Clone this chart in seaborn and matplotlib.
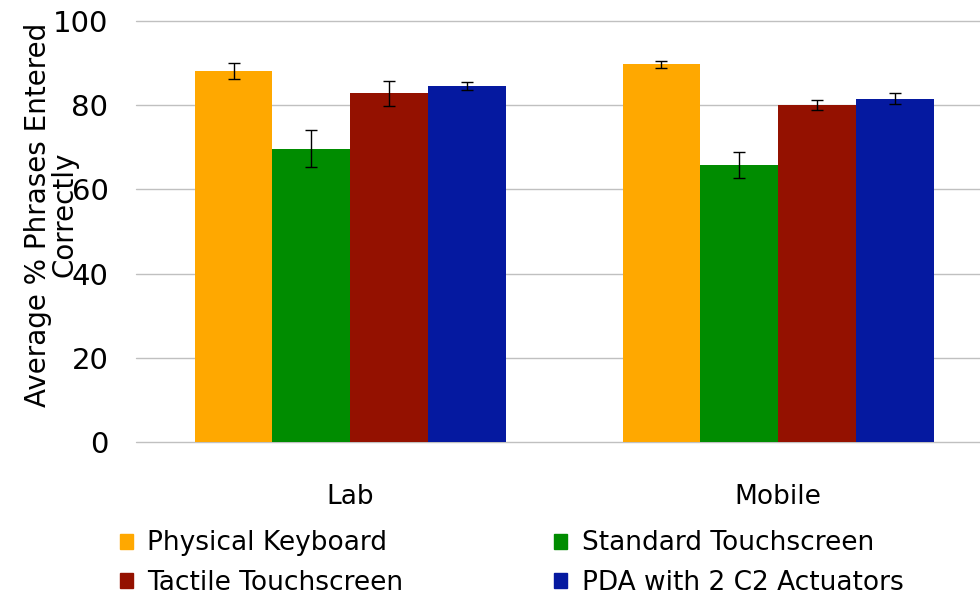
import numpy as np
import pandas as pd
import matplotlib
matplotlib.use("Agg")
import matplotlib.pyplot as plt
import seaborn as sns

# values
conditions = ["Lab", "Mobile"]
methods = ["Physical Keyboard", "Standard Touchscreen",
           "Tactile Touchscreen", "PDA with 2 C2 Actuators"]
lab_means = [88.2, 69.6, 82.8, 84.5]
lab_err = [1.9, 4.4, 3.0, 0.9]
mobile_means = [89.7, 65.7, 80.0, 81.5]
mobile_err = [0.8, 3.1, 1.2, 1.35]
colors = ["#FFA800", "#008C00", "#941100", "#0519A0"]

df = pd.DataFrame({
    "condition": np.repeat(conditions, len(methods)),
    "method": methods * len(conditions),
    "mean": lab_means + mobile_means,
    "err": lab_err + mobile_err,
})

sns.set_style("white")
plt.rcParams["font.family"] = ["DejaVu Sans"]
plt.rcParams["text.color"] = "black"
plt.rcParams["xtick.color"] = "black"
plt.rcParams["ytick.color"] = "black"
plt.rcParams["axes.labelcolor"] = "black"

fig = plt.figure(figsize=(9.8, 5.95), dpi=100)
ax = fig.add_axes([0.139, 0.257, 0.861, 0.708])

sns.barplot(data=df, x="condition", y="mean", hue="method",
            hue_order=methods, palette=colors, width=0.727,
            errorbar=None, saturation=1, linewidth=0, ax=ax, legend=False)

# error bars at each bar center
for cont, m in zip(ax.containers, methods):
    sub = df[df["method"] == m].set_index("condition").loc[conditions]
    xs = [p.get_x() + p.get_width() / 2 for p in cont.patches]
    ax.errorbar(xs, sub["mean"], yerr=sub["err"], fmt="none",
                ecolor="black", elinewidth=1, capsize=4.3, capthick=1, zorder=5)

ax.set_ylim(0, 100)
ax.set_xlim(-0.5, 1.472)
ax.set_yticks([0, 20, 40, 60, 80, 100])
ax.yaxis.grid(True, color="#C0C0C0", linewidth=1)
for gl in ax.get_ygridlines():
    gl.set_clip_on(False)
ax.set_axisbelow(True)
for s in ax.spines.values():
    s.set_visible(False)
ax.tick_params(axis="y", length=0, pad=20, labelsize=21)
ax.tick_params(axis="x", length=0, pad=30, labelsize=19)
ax.set_xlabel("")
ax.set_ylabel("Average % Phrases Entered\nCorrectly", fontsize=20,
              linespacing=0.95)
ax.yaxis.set_label_coords(-0.068, 0.54)

# legend is filled row by row in the reference
order = [0, 2, 1, 3]
handles = [plt.Rectangle((0, 0), 1, 1, color=colors[i]) for i in order]
labels = [methods[i] for i in order]
fig.legend(handles, labels, loc="lower left", bbox_to_anchor=(0.098, -0.041),
           ncol=2, frameon=False, fontsize=19, handlelength=0.5,
           handleheight=0.5, handletextpad=0.55, columnspacing=5.7,
           labelspacing=0.5)

fig.savefig("out.png", dpi=100)
